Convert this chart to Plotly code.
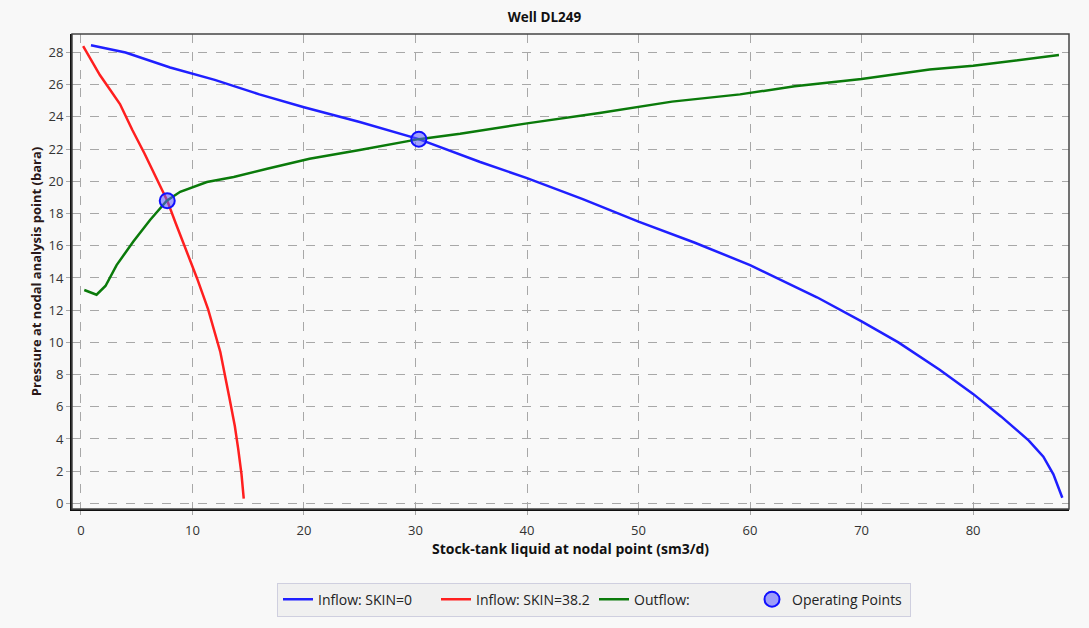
import plotly.graph_objects as go

# Inflow SKIN=0
skin0_q = [0.9, 4.0, 8.0, 12.0, 16.0, 20.0, 25.0, 30.3, 35.8, 40.0, 45.0, 50.0, 55.0, 60.0, 66.0, 70.0, 73.3, 77.0, 80.0, 82.5, 85.0, 86.3, 87.2, 88.0]
skin0_p = [28.45, 28.0, 27.07, 26.3, 25.4, 24.6, 23.68, 22.62, 21.2, 20.2, 18.9, 17.5, 16.2, 14.8, 12.8, 11.3, 10.0, 8.3, 6.8, 5.4, 3.9, 2.9, 1.8, 0.35]

# Inflow SKIN=38.2
skin38_q = [0.2, 1.7, 2.6, 3.5, 4.6, 5.7, 6.9, 7.74, 8.5, 9.3, 10.4, 11.4, 12.5, 13.3, 13.8, 14.1, 14.4, 14.6]
skin38_p = [28.4, 26.6, 25.7, 24.8, 23.2, 21.73, 20.0, 18.8, 17.4, 15.96, 14.0, 12.06, 9.4, 6.6, 4.8, 3.4, 1.8, 0.3]

# Outflow
out_q = [0.3, 1.4, 2.2, 3.2, 4.7, 6.2, 7.7, 8.9, 11.3, 13.7, 16.7, 20.5, 25.0, 30.3, 34.0, 40.0, 46.5, 53.0, 59.1, 64.0, 70.0, 76.1, 80.0, 84.0, 87.7]
out_p = [13.25, 12.96, 13.5, 14.8, 16.26, 17.6, 18.8, 19.35, 19.96, 20.27, 20.78, 21.4, 21.95, 22.62, 22.95, 23.6, 24.25, 24.95, 25.4, 25.9, 26.35, 26.95, 27.18, 27.5, 27.84]

# Operating points
op_q = [7.74, 30.3]
op_p = [18.8, 22.62]

x_ticks = [0, 10, 20, 30, 40, 50, 60, 70, 80]
y_ticks = list(range(0, 29, 2))

FONT = "Open Sans"

fig = go.Figure()
fig.add_trace(go.Scatter(x=skin0_q, y=skin0_p, mode="lines", name="Inflow: SKIN=0",
                         line=dict(color="#1f1fff", width=2.5)))
fig.add_trace(go.Scatter(x=skin38_q, y=skin38_p, mode="lines", name="Inflow: SKIN=38.2",
                         line=dict(color="#ff1f1f", width=2.5)))
fig.add_trace(go.Scatter(x=out_q, y=out_p, mode="lines", name="Outflow:",
                         line=dict(color="#0a7a0a", width=2.5)))
fig.add_trace(go.Scatter(x=op_q, y=op_p, mode="markers", name="Operating Points",
                         marker=dict(size=15, color="rgba(90,90,255,0.55)",
                                     line=dict(color="#1010ff", width=2))))

fig.update_layout(
    width=1089, height=628,
    margin=dict(l=72, r=20, t=34, b=116),
    paper_bgcolor="#f8f8f8",
    plot_bgcolor="#f9f9f9",
    font=dict(family=FONT, size=13, color="#222"),
    title=dict(text="<b>Well DL249</b>", x=0.5, xanchor="center", xref="container",
               y=1 - 17/628, yanchor="middle", font=dict(size=13.5, color="#111")),
    showlegend=True,
    legend=dict(orientation="h", x=(277-72)/997, xanchor="left", y=-(586-512)/478, yanchor="top",
                bgcolor="#f0f0f0", bordercolor="#cfcfdf", borderwidth=1,
                font=dict(size=14, color="#222"), entrywidth=113, entrywidthmode="pixels",
                tracegroupgap=0, itemwidth=30),
)

fig.update_xaxes(range=[-0.8, 88.6], tickvals=x_ticks, showgrid=True, gridcolor="#a8a8a8",
                 griddash="dash", gridwidth=1, zeroline=False,
                 showline=True, linecolor="#111", linewidth=2,
                 ticks="outside", ticklen=4, tickcolor="#a8a8a8", ticklabelstandoff=4,
                 tickfont=dict(size=13, color="#333"),
                 title=dict(text="<b>Stock-tank liquid at nodal point (sm3/d)</b>",
                            font=dict(size=14, color="#111"), standoff=6))
fig.update_yaxes(range=[-0.35, 29.15], tickvals=y_ticks, showgrid=True, gridcolor="#a8a8a8",
                 griddash="dash", gridwidth=1, zeroline=False,
                 showline=True, linecolor="#111", linewidth=2,
                 ticks="outside", ticklen=4, tickcolor="#a8a8a8",
                 tickfont=dict(size=13, color="#333"),
                 title=dict(text="<b>Pressure at nodal analysis point (bara)</b>",
                            font=dict(size=13, color="#2a1818"), standoff=4))

# thin top/right frame
fig.add_shape(type="rect", xref="paper", yref="paper", x0=0, y0=0, x1=1, y1=1,
              line=dict(color="#444", width=1.5), layer="above")

fig.write_html("out.html")
